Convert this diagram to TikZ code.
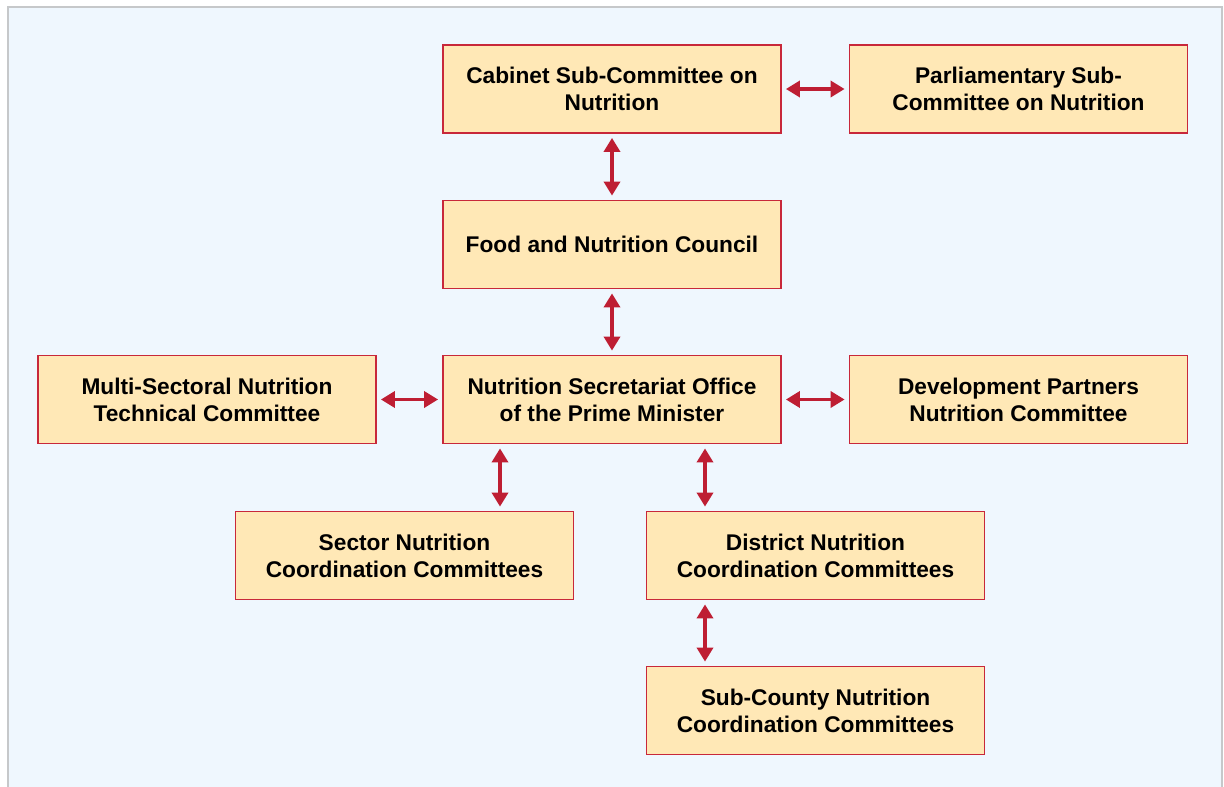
\documentclass[tikz,border=0pt]{standalone}
\usepackage{fontspec}
\setmainfont{Liberation Sans}
\usetikzlibrary{arrows.meta}
\definecolor{framegrey}{HTML}{C6C8CA}
\definecolor{paleblue}{HTML}{EFF7FE}
\definecolor{boxfill}{HTML}{FFE8B6}
\definecolor{boxred}{HTML}{C8283A}
\definecolor{linkred}{HTML}{BE1E33}

\begin{document}
\begin{tikzpicture}[x=1pt,y=-1pt,
		unit/.style={draw=boxred, line width=1.8pt, fill=boxfill, minimum width=338pt, minimum height=88pt, align=center, font=\fontsize{22.7}{27}\selectfont\bfseries, inner sep=0pt},
		link/.style={draw=linkred, line width=3.4pt, {Triangle[length=14pt,width=16pt]}-{Triangle[length=14pt,width=16pt]}, shorten <=4pt, shorten >=4pt}]
		%%%%% START %%%%%
		
		\useasboundingbox (0,0) rectangle (1224,787);
		\fill[paleblue] (8,7) rectangle (1222,787);
		\draw[framegrey, line width=2pt] (8,790) -- (8,7) -- (1222,7) -- (1222,790);
		
		\node[unit] (cab) at (612,89) {Cabinet Sub-Committee on\\Nutrition};
		\node[unit] (parl) at (1018.5,89) {Parliamentary Sub-\\Committee on Nutrition};
		\node[unit] (food) at (612,244.5) {Food and Nutrition Council};
		\node[unit] (multi) at (207,399.5) {Multi-Sectoral Nutrition\\Technical Committee};
		\node[unit] (nsec) at (612,399.5) {Nutrition Secretariat Office\\of the Prime Minister};
		\node[unit] (devp) at (1018.5,399.5) {Development Partners\\Nutrition Committee};
		\node[unit] (sect) at (404.5,555.5) {Sector Nutrition\\Coordination Committees};
		\node[unit] (dist) at (815.5,555.5) {District Nutrition\\Coordination Committees};
		\node[unit] (subc) at (815.5,710.5) {Sub-County Nutrition\\Coordination Committees};
		
		\coordinate (lft) at (500,0);
		\coordinate (rgt) at (705,0);
		
		\draw[link] (cab) -- (parl);
		\draw[link] (cab) -- (food);
		\draw[link] (food) -- (nsec);
		\draw[link] (multi) -- (nsec);
		\draw[link] (nsec) -- (devp);
		\draw[link] (nsec.south -| lft) -- (sect.north -| lft);
		\draw[link] (nsec.south -| rgt) -- (dist.north -| rgt);
		\draw[link] (dist.south -| rgt) -- (subc.north -| rgt);
		
		%%%%% END %%%%%
\end{tikzpicture}
\end{document}
